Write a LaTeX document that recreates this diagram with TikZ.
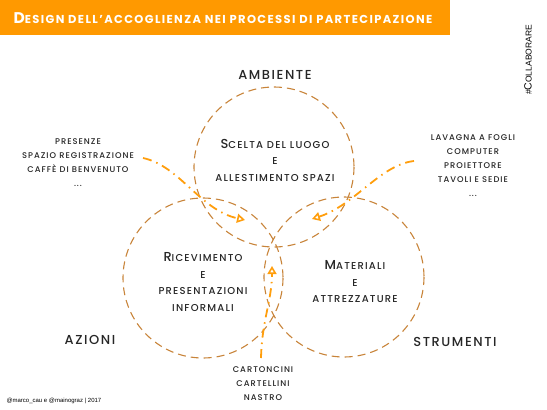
\documentclass[tikz,border=0pt]{standalone}
\usepackage{fontspec}
\setmainfont{Poppins}[LetterSpace=12, UprightFont=* Medium, BoldFont=* Bold]
\setsansfont{Liberation Sans}
\usetikzlibrary{arrows.meta}

\definecolor{titleorange}{HTML}{FF9900}
\definecolor{ringbrown}{HTML}{C8843A}
\definecolor{arroworange}{HTML}{FF9E0D}

\tikzstyle{ring} = [draw=ringbrown, line width=1.1pt, dash pattern=on 8pt off 5pt]
\tikzstyle{flow} = [draw=arroworange, line width=1.8pt, dash pattern=on 9pt off 5pt on 1.5pt off 5pt,
    -{Triangle[open, length=8pt, width=9pt, line width=1.6pt]}]
\tikzstyle{inner} = [align=center, text=black!85, font=\fontsize{10}{16.5}\selectfont]
\tikzstyle{items} = [align=center, text=black!85, font=\fontsize{8.3}{14}\selectfont]
\tikzstyle{area} = [text=black!85, font=\fontsize{13}{13}\selectfont]

\newcommand{\capl}[1]{{\fontsize{13}{13}\selectfont #1}}

\begin{document}
\begin{tikzpicture}[x=1pt, y=-1pt]
    \useasboundingbox (0,0) rectangle (547,410);

    % title bar
    \fill [titleorange] (0,0) rectangle (450,35);
    \node [anchor=west, text=white, font=\bfseries\fontsize{11.5}{11.5}\selectfont] (title) at (10,18)
        {{\fontsize{15.5}{15.5}\selectfont D}ESIGN DELL'ACCOGLIENZA NEI PROCESSI DI PARTECIPAZIONE};
    \node [rotate=90, font=\sffamily\fontsize{8.5}{8.5}\selectfont] (tag) at (528,60)
        {\#{\fontsize{10.5}{10.5}\selectfont C}OLLABORARE};

    % the three areas
    \draw [ring] (274,167) circle (80);
    \draw [ring] (203,278) circle (80);
    \draw [ring] (344,277) circle (80);

    \node [area] (ambiente) at (275,75) {AMBIENTE};
    \node [area] (azioni) at (90,340) {AZIONI};
    \node [area] (strumenti) at (455,342) {STRUMENTI};

    \node [inner] (luogo) at (275,160) {\capl{S}CELTA DEL LUOGO\\E\\ALLESTIMENTO SPAZI};
    \node [inner] (ricevimento) at (203,282) {\capl{R}ICEVIMENTO\\E\\PRESENTAZIONI\\INFORMALI};
    \node [inner] (materiali) at (355,282) {\capl{M}ATERIALI\\E\\ATTREZZATURE};

    % examples
    \node [items] (presenze) at (78,163) {PRESENZE\\SPAZIO REGISTRAZIONE\\CAFFÈ DI BENVENUTO\\...};
    \node [items] (lavagna) at (473,166) {LAVAGNA A FOGLI\\COMPUTER\\PROIETTORE\\TAVOLI E SEDIE\\...};
    \node [items] (cartoncini) at (263,384) {CARTONCINI\\CARTELLINI\\NASTRO};

    \coordinate (ls) at (143,158);
    \coordinate (le) at (245,220);
    \coordinate (rs) at (414,161);
    \coordinate (re) at (312,219);
    \coordinate (bs) at (261,358);
    \coordinate (be) at (272,266);

    \draw [flow] (ls) .. controls (180,166) and (200,210) .. (le);
    \draw [flow] (rs) .. controls (380,165) and (355,205) .. (re);
    \draw [flow] (bs) .. controls (262,320) and (272,300) .. (be);

    \node [anchor=west, font=\sffamily\fontsize{6}{6}\selectfont] (credits) at (3,401)
        {@marco\_cau e @mainograz | 2017};
\end{tikzpicture}
\end{document}
